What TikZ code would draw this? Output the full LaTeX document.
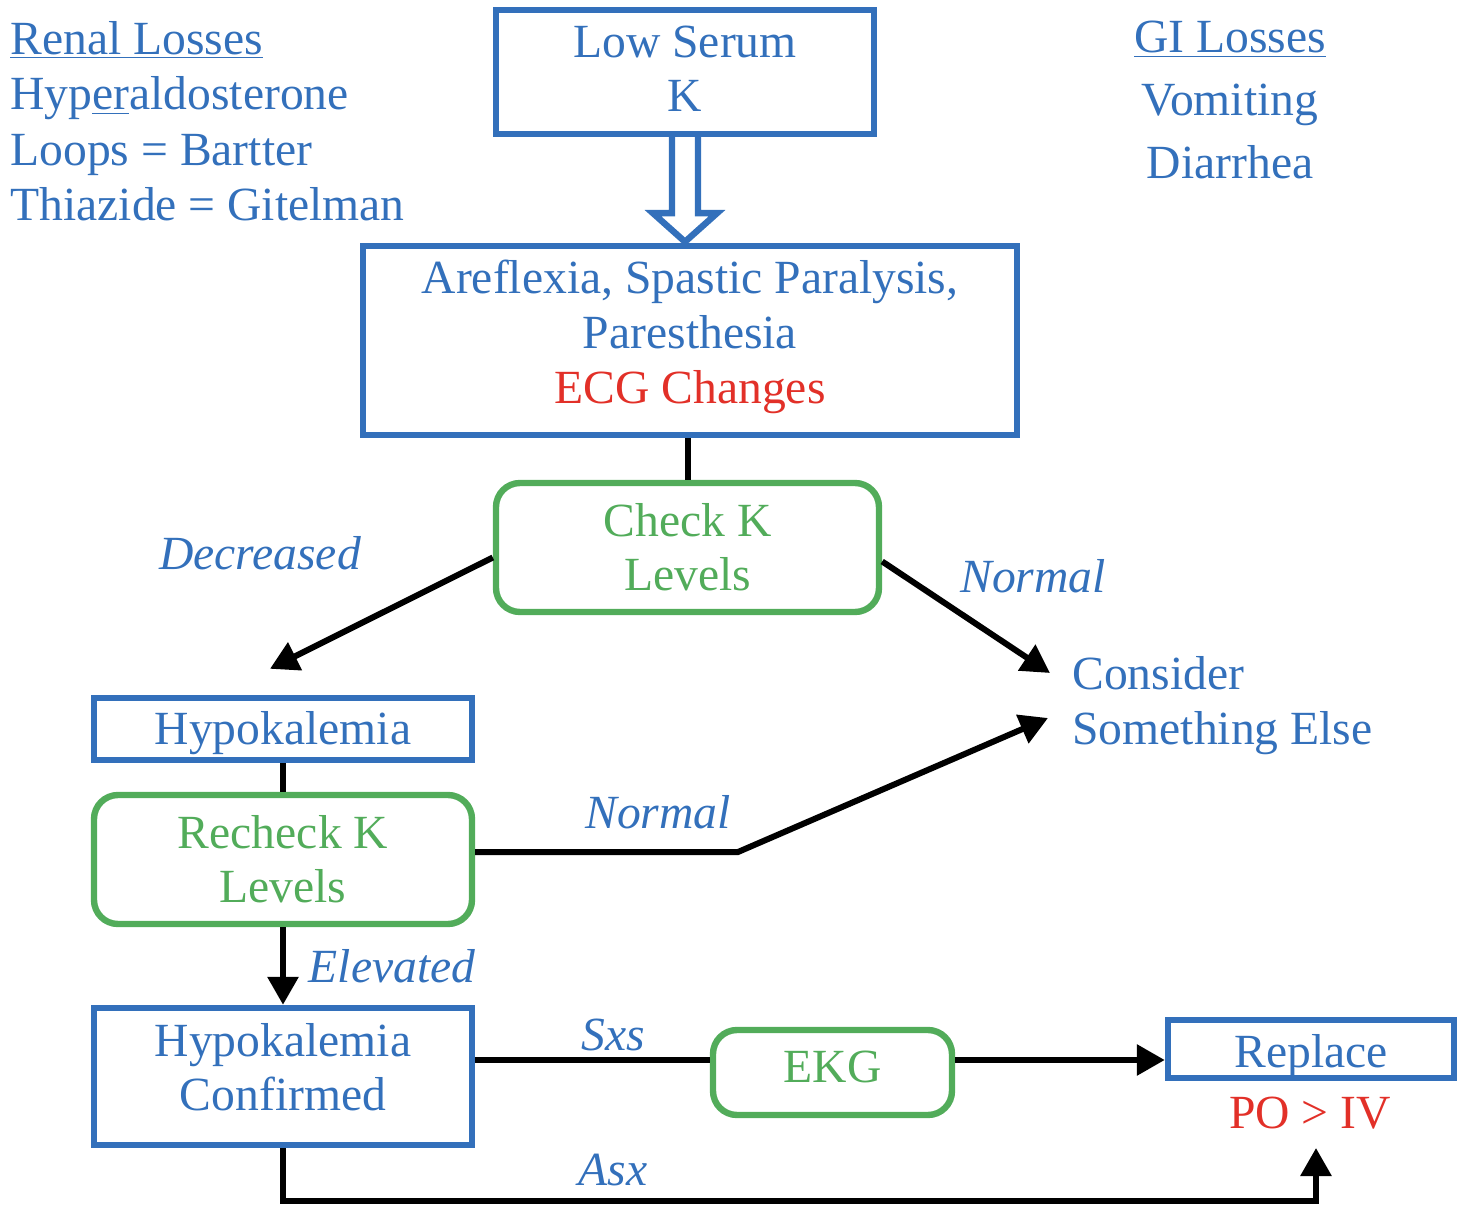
\documentclass[tikz,border=0pt]{standalone}
\usepackage{fontspec}
\setmainfont{Liberation Serif}
\usetikzlibrary{arrows.meta,calc}
\definecolor{bl}{RGB}{51,112,187}
\definecolor{gr}{RGB}{82,172,90}
\definecolor{rd}{RGB}{226,48,40}
\begin{document}
\begin{tikzpicture}[x=0.5pt,y=-0.5pt,
  txt/.style={font=\fontsize{23.8}{27.5}\selectfont, text=bl, inner sep=0pt, align=center},
  lab/.style={font=\fontsize{23.8}{27.5}\selectfont\itshape, text=bl, inner sep=0pt},
  bbox/.style={draw=bl, line width=3.2pt, inner sep=0pt, align=center, text=bl,
    font=\fontsize{23.8}{27}\selectfont, text height=15.8pt, text depth=0pt},
  two/.style={text height=42.8pt},
  gbox/.style={bbox, draw=gr, text=gr, rounded corners=12pt},
  conn/.style={draw=black, line width=3pt},
  arr/.style={conn, -{Triangle[length=14pt,width=15pt]}},
  hollow/.style={draw=bl, line width=3.2pt, miter limit=10}]
\useasboundingbox (0,0) rectangle (1474,1230);

% side notes
\node[txt, align=left, anchor=north west, font=\fontsize{23.8}{27.7}\selectfont] (renal) at (10,21)
  {\underline{Renal Losses}\\Hyp\underline{er}aldosterone\\Loops = Bartter\\Thiazide = Gitelman};
\node[txt, anchor=north, font=\fontsize{23.8}{31.3}\selectfont] (gi) at (1230,21)
  {\underline{GI Losses}\\Vomiting\\Diarrhea};

% boxes
\node[bbox, two, text depth=3pt, minimum width=189pt, minimum height=62pt] (low) at (685,72) {Low Serum\\K};
\node[bbox, text height=70.8pt, text depth=7.5pt, minimum width=327pt, minimum height=94.5pt,
  font=\fontsize{23.8}{27.5}\selectfont] (aref) at (690,340.5)
  {Areflexia, Spastic Paralysis,\\Paresthesia\\\textcolor{rd}{ECG Changes}};
\node[gbox, two, minimum width=191.5pt, minimum height=64.5pt] (check) at (687.5,547.5) {Check K\\Levels};
\node[bbox, minimum width=189pt, minimum height=31pt] (hypo) at (283,729) {Hypokalemia};
\node[gbox, two, minimum width=189pt, minimum height=64.5pt] (recheck) at (283,859.5) {Recheck K\\Levels};
\node[bbox, two, text depth=9pt, minimum width=189pt, minimum height=68.5pt] (conf) at (283,1076.5) {Hypokalemia\\Confirmed};
\node[gbox, text depth=5.5pt, minimum width=119.5pt, minimum height=42.5pt] (ekg) at (832.5,1072.5) {EKG};
\node[bbox, text height=18.8pt, minimum width=143pt, minimum height=29pt] (rep) at (1311,1049) {Replace};
\node[txt, text=rd] (po) at (1310,1113) {PO > IV};
\node[txt, align=left, anchor=west] (consider) at (1072,706) {Consider\\Something Else};

% edge labels
\node[lab] (ldec) at (260,553) {Decreased};
\node[lab] (lnorm1) at (1033,576) {Normal};
\node[lab] (lnorm2) at (658,812) {Normal};
\node[lab] (lelev) at (392,966) {Elevated};
\node[lab] (lsxs) at (613,1035) {Sxs};
\node[lab] (lasx) at (613,1170) {Asx};

% helper coordinates
\coordinate (tipdec) at ($(hypo.north)+(-13,-26)$);
\coordinate (tipn1) at ($(consider.west)+(-22,-33)$);
\coordinate (tipn2) at ($(consider.west)+(-24,12)$);
\coordinate (bend) at (738,852);
\coordinate (sxsy) at ($(conf.east)+(0,-16.5)$);
\coordinate (asxend) at (1316,1148);

% hollow double arrow
\draw[hollow] ($(low.south)+(-13,0)$) -- ++(0,76) -- ++(-19,0) -- ($(aref.north -| low.south)+(0,-1)$)
  -- ($(low.south)+(32,76)$) -- ++(-19,0) -- ($(low.south)+(13,0)$);

% connectors
\draw[conn] (check.north) -- (check.north |- aref.south);
\draw[arr] ($(check.west)+(0,10)$) -- (tipdec);
\draw[arr] ($(check.east)+(0,14)$) -- (tipn1);
\draw[conn] (hypo.south) -- (recheck.north);
\draw[arr] ($(recheck.east)+(0,-7.5)$) -- (bend) -- (tipn2);
\draw[arr] (recheck.south) -- (conf.north);
\draw[conn] (sxsy) -- (sxsy -| ekg.west);
\draw[arr] (sxsy -| ekg.east) -- (sxsy -| rep.west);
\draw[arr] (conf.south) -- ++(0,53) -| (asxend);
\end{tikzpicture}
\end{document}
